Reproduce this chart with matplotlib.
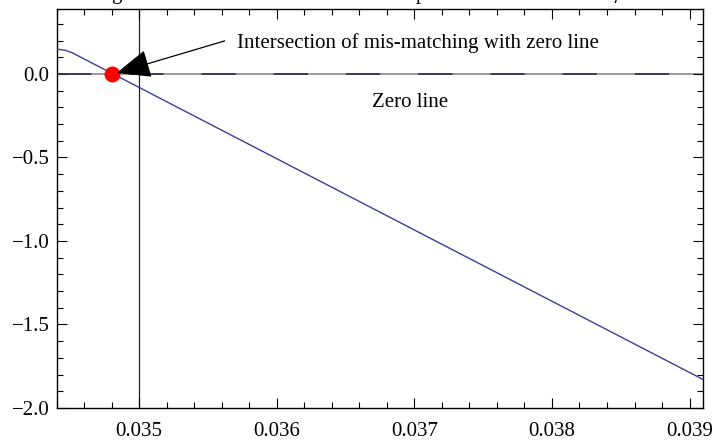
import matplotlib
matplotlib.use("Agg")
import matplotlib.pyplot as plt
from matplotlib.ticker import MultipleLocator, FuncFormatter

plt.rcParams['font.family'] = ['Liberation Serif', 'DejaVu Serif']
plt.rcParams['mathtext.fontset'] = 'stix'

# mis-matching of the shooting solution as a function of mu
mu = [0.0344, 0.03446, 0.03451, 0.0391]
mismatch = [0.149, 0.142, 0.128, -1.83]

# root of the mis-matching
root_mu = 0.0348
root_val = 0.0

x_ticks = [0.035, 0.036, 0.037, 0.038, 0.039]
y_ticks = [0.0, -0.5, -1.0, -1.5, -2.0]

line_color = '#3d3d99'
fs = 15


def fmt(digits):
    def f(v, pos):
        s = f'{v:.{digits}f}'
        if s.startswith('-'):
            s = '\u2212' + s[1:]
        return s
    return FuncFormatter(f)


fig = plt.figure(figsize=(7.14, 4.43), dpi=100)
ax = fig.add_axes([0.0794, 0.079, 0.9056, 0.9007])

ax.set_xlim(0.0344, 0.0391)
ax.set_ylim(-2.0, 0.389)

# axes lines through the origin (0.035, 0)
ax.axvline(0.035, color='#222222', lw=0.9, zorder=1)
ax.axhline(0.0, color='#808080', lw=1.1, zorder=1)
# dashed zero line
ax.axhline(0.0, color='#33335e', lw=1.3, dashes=(19, 21), zorder=2)

ax.plot(mu, mismatch, color=line_color, lw=1.0, zorder=3)
ax.plot([root_mu], [root_val], 'o', color='#ff0000', ms=11.5, mec='none', zorder=4)

ax.annotate('', xy=(0.034836, 0.006), xytext=(0.035621, 0.198),
            arrowprops=dict(arrowstyle='-|>,head_length=1.2,head_width=0.5',
                            color='black', lw=0.9, mutation_scale=18,
                            shrinkA=0, shrinkB=0), zorder=5)
ax.text(0.035709, 0.186, 'Intersection of mis-matching with zero line',
        fontsize=fs, ha='left', va='center')
ax.text(0.036966, -0.171, 'Zero line', fontsize=fs, ha='center', va='center')

ax.xaxis.set_minor_locator(MultipleLocator(0.0002))
ax.yaxis.set_minor_locator(MultipleLocator(0.1))
ax.set_xticks(x_ticks)
ax.set_yticks(y_ticks)
ax.xaxis.set_major_formatter(fmt(3))
ax.yaxis.set_major_formatter(fmt(1))

ax.tick_params(which='both', direction='in', top=True, right=True,
               labelsize=fs, color='black', width=0.8)
ax.tick_params(which='major', length=7)
ax.tick_params(which='minor', length=4.5)
ax.tick_params(axis='y', which='major', pad=5)
ax.tick_params(axis='x', which='major', pad=10)

for s in ax.spines.values():
    s.set_linewidth(1.0)
    s.set_color('black')

fig.text(0.078, 1.0 + 0.5 / 443,
         r'Plotting the mis-match function versus the parameter of the model $\mu$',
         fontsize=fs, ha='left', va='baseline')

fig.savefig('out.png', dpi=100)
